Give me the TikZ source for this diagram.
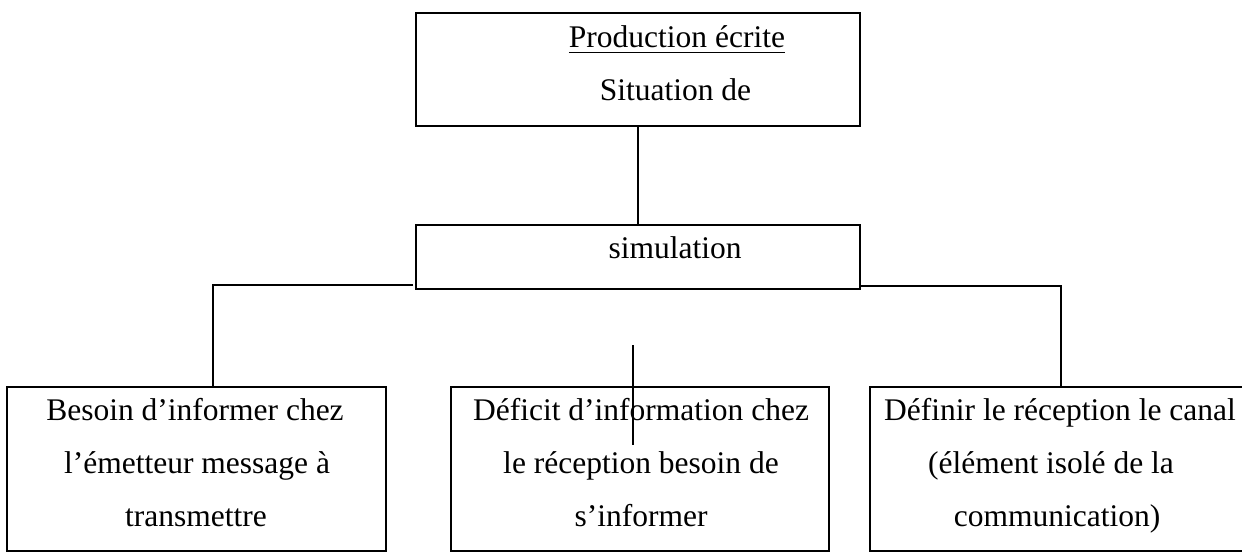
\documentclass[tikz,border=0pt]{standalone}
\usepackage{fontspec}
\setmainfont{Liberation Serif}
\begin{document}
\begin{tikzpicture}[x=1pt,y=-1pt,
  box/.style={draw=black,line width=1.8pt,rectangle,inner sep=0pt,outer sep=0pt},
  txt/.style={inner sep=0pt,outer sep=0pt,anchor=base,font=\fontsize{31.5}{53}\selectfont},
  conn/.style={draw=black,line width=1.8pt}]
\clip (0,0) rectangle (1242,552);
% boxes
\node[box,minimum width=444pt,minimum height=113pt] (top) at (638,69.5) {};
\node[box,minimum width=444pt,minimum height=64pt] (sim) at (638,257) {};
\node[box,minimum width=379pt,minimum height=164pt] (left) at (196.5,469) {};
\node[box,minimum width=378pt,minimum height=164pt] (mid) at (640,469) {};
\node[box,minimum width=376pt,minimum height=164pt] (right) at (1058,469) {};
% texts
\node[txt] (t1) at (677,47) {Production écrite};
\draw[line width=1.6pt] ([yshift=-5.5pt]t1.base west) -- ([yshift=-5.5pt]t1.base east);
\node[txt] (t2) at (675.5,100) {Situation de};
\node[txt] (s1) at (675,258) {simulation};
\node[txt] (l1) at (195,420) {Besoin d’informer chez};
\node[txt] (l2) at (197,473) {l’émetteur message à};
\node[txt] (l3) at (196,526) {transmettre};
\node[txt] (m1) at (641,420) {Déficit d’information chez};
\node[txt] (m2) at (641,473) {le réception besoin de};
\node[txt] (m3) at (641,526) {s’informer};
\node[txt] (r1) at (1060,420) {Définir le réception le canal};
\node[txt] (r2) at (1051,473) {(élément isolé de la};
\node[txt] (r3) at (1057,526) {communication)};
% connectors
\coordinate (lj) at (213,285);
\coordinate (rj) at (1061,286);
\coordinate (st1) at (633,345);
\coordinate (st2) at (633,445);
\draw[conn] (top.south) -- (sim.north);
\draw[conn] ([xshift=-3pt]sim.south west |- lj) -- (lj) -- (lj |- left.north);
\draw[conn] (sim.south east |- rj) -- (rj) -- (rj |- right.north);
\draw[conn] (st1) -- (st2);
\end{tikzpicture}
\end{document}
